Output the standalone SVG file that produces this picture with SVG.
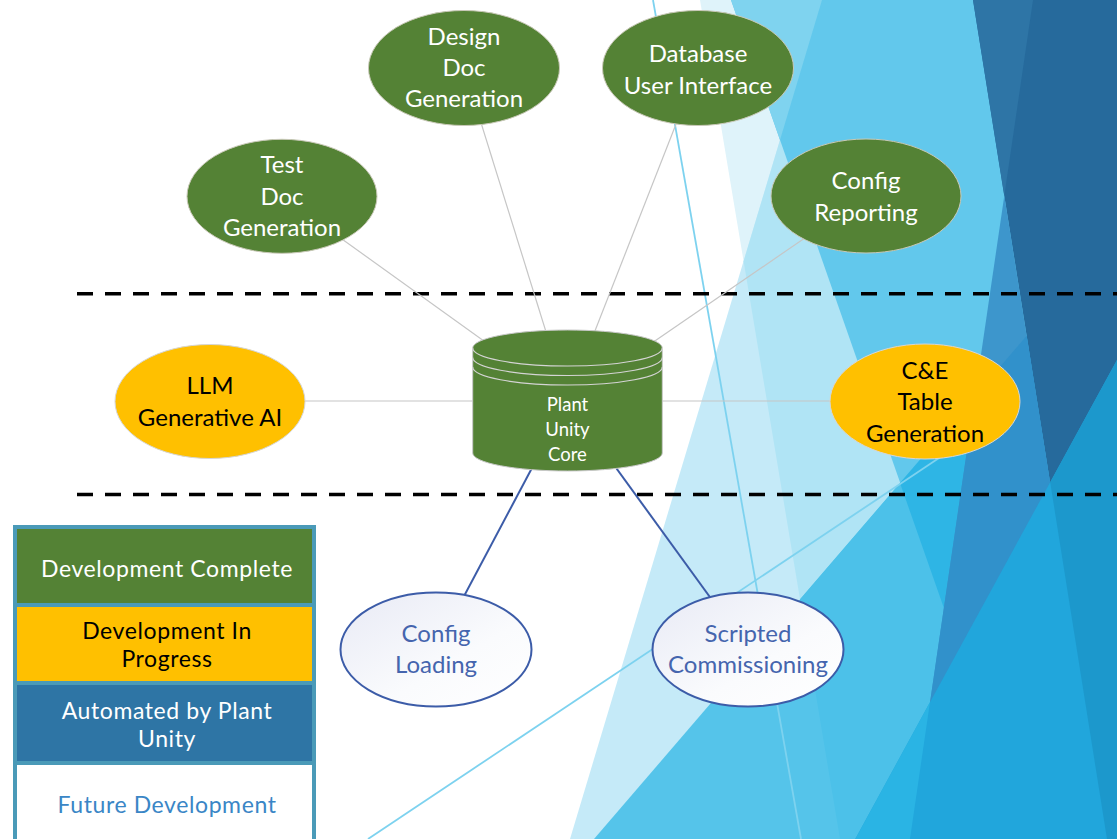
<svg xmlns="http://www.w3.org/2000/svg" width="1117" height="839" viewBox="0 0 1117 839">
<defs>
<style>
text{font-family:Lato,"Liberation Sans",sans-serif;text-anchor:middle}
.n{font-size:24px}
.w{fill:#ffffff}
.k{fill:#000000}
.b{fill:#4565ae}
.lg{font-size:23px;letter-spacing:0.6px}
.g{fill:#548235;stroke:#c9c9b8;stroke-width:1}
.y{fill:#ffc000;stroke:#d6d6d6;stroke-width:1}
.f{fill:url(#wg);stroke:#3c5ca8;stroke-width:2}
.gl{stroke:#c6c6c6;stroke-width:1.2;fill:none}
.bl{stroke:#3c5ca8;stroke-width:2;fill:none}
.dash{stroke:#000;stroke-width:3.5;stroke-dasharray:16 12;fill:none}
.tl{stroke:#7dd2ef;stroke-width:1.8;fill:none}
</style>
<linearGradient id="wg" x1="0" y1="0" x2="1" y2="1">
<stop offset="0" stop-color="#e8eaf5"/>
<stop offset="0.6" stop-color="#fafbfd"/>
<stop offset="1" stop-color="#ffffff"/>
</linearGradient>
</defs>
<rect width="1117" height="839" fill="#ffffff"/>
<g id="background">
<polygon points="700,0 1117,0 1117,839 840,839" fill="#dff3fa"/>
<polygon points="822,0 1117,0 1117,839 570,839" fill="#c5eaf8"/>
<polygon points="822,0 1117,0 1117,839 840,839 743.6,261.2" fill="#b0e4f5"/>
<polygon points="731,0 1117,0 1117,839 1025,839" fill="#62c8ec"/>
<polygon points="731,0 822,0 780,140" fill="#7fd3ef"/>
<polygon points="594,839 1117,231 1117,839" fill="#55c4ea"/>
<polygon points="800,599.2 1117,231 1117,839 840,839" fill="#4cc1e9"/>
<polygon points="900,483 1117,231 1117,839 1025,839" fill="#2eb5e5"/>
<polygon points="973,0 1117,0 1117,839 1107,839" fill="#266a9c"/>
<polygon points="973,0 1033,0 1004.3,195.7" fill="#2e75a6"/>
<polygon points="1004.3,195.7 1107,839 910,839" fill="#3d96cc"/>
<polygon points="975,395.9 1026.7,335.7 1107,839 910,839" fill="#3191cb"/>
<polygon points="1117,360 1117,839 855.3,839" fill="#21a6dc"/>
<polygon points="1117,360 1050.2,482.3 1107,839 1117,839" fill="#1c98cc"/>
<polygon points="930,702 910,839 855.3,839" fill="#2ab4e4"/>
<line class="tl" x1="653" y1="0" x2="801" y2="839"/>
<line class="tl" x1="368" y1="839" x2="960" y2="444"/>
</g>
<g id="separators">
<line class="dash" x1="77" y1="293.7" x2="1117" y2="293.7"/>
<line class="dash" x1="77" y1="494.5" x2="1117" y2="494.5"/>
</g>
<g id="connectors">
<line class="gl" x1="567.5" y1="401" x2="282" y2="196"/>
<line class="gl" x1="567.5" y1="401" x2="464" y2="68"/>
<line class="gl" x1="567.5" y1="401" x2="698" y2="68"/>
<line class="gl" x1="567.5" y1="401" x2="866" y2="196"/>
<line class="gl" x1="567.5" y1="401" x2="210" y2="401"/>
<line class="gl" x1="567.5" y1="401" x2="925" y2="401"/>
<line class="bl" x1="567.5" y1="401" x2="436" y2="649"/>
<line class="bl" x1="567.5" y1="401" x2="748" y2="649.5"/>
</g>
<g id="design-doc">
<ellipse class="g" cx="464" cy="68" rx="95.5" ry="57.5"/>
<text class="n w" x="464" y="44.5">Design</text>
<text class="n w" x="464" y="76">Doc</text>
<text class="n w" x="464" y="107.3">Generation</text>
</g>
<g id="database-ui">
<ellipse class="g" cx="698" cy="68" rx="95.5" ry="57.5"/>
<text class="n w" x="698" y="62.3">Database</text>
<text class="n w" x="698" y="93.6">User Interface</text>
</g>
<g id="test-doc">
<ellipse class="g" cx="282" cy="196.3" rx="95" ry="57"/>
<text class="n w" x="282" y="173.3">Test</text>
<text class="n w" x="282" y="204.5">Doc</text>
<text class="n w" x="282" y="235.5">Generation</text>
</g>
<g id="config-reporting">
<ellipse class="g" cx="866" cy="196" rx="95" ry="57"/>
<text class="n w" x="866" y="189.3">Config</text>
<text class="n w" x="866" y="220.7">Reporting</text>
</g>
<g id="llm">
<ellipse class="y" cx="210" cy="401.5" rx="95" ry="57"/>
<text class="n k" x="210" y="394.3">LLM</text>
<text class="n k" x="210" y="425.7">Generative AI</text>
</g>
<g id="ce-table">
<ellipse class="y" cx="925" cy="401.5" rx="95" ry="57.5"/>
<text class="n k" x="925" y="378.5">C&amp;E</text>
<text class="n k" x="925" y="410">Table</text>
<text class="n k" x="925" y="441.7">Generation</text>
</g>
<g id="plant-unity-core">
<path d="M472.7,348 A94.8,18 0 0,1 662.3,348 L662.3,453 A94.8,18 0 0,1 472.7,453 Z" fill="#548235" stroke="#c9c9c9" stroke-width="1"/>
<path d="M472.7,348 A94.8,18 0 0,0 662.3,348 M472.7,357.5 A94.8,18 0 0,0 662.3,357.5 M472.7,367 A94.8,18 0 0,0 662.3,367" fill="none" stroke="#d4d4d4" stroke-width="1.2"/>
<text class="w" style="font-size:18.5px" x="567.5" y="410.7">Plant</text>
<text class="w" style="font-size:18.5px" x="567.5" y="436">Unity</text>
<text class="w" style="font-size:18.5px" x="567.5" y="460.7">Core</text>
</g>
<g id="config-loading">
<ellipse class="f" cx="436" cy="649.5" rx="95.5" ry="57"/>
<text class="n b" x="436" y="641.8">Config</text>
<text class="n b" x="436" y="673.3">Loading</text>
</g>
<g id="scripted-commissioning">
<ellipse class="f" cx="748" cy="649.5" rx="95.5" ry="57"/>
<text class="n b" x="748" y="641.5">Scripted</text>
<text class="n b" x="748" y="673.3">Commissioning</text>
</g>
<g id="legend">
<rect x="13" y="525" width="303" height="330" fill="#4a9ab8"/>
<rect x="17" y="529" width="295" height="74" fill="#548235"/>
<rect x="17" y="607" width="295" height="74" fill="#ffc000"/>
<rect x="17" y="685" width="295" height="76" fill="#2e75a5"/>
<rect x="17" y="765" width="295" height="90" fill="#ffffff"/>
<text class="lg w" x="167" y="576.7">Development Complete</text>
<text class="lg k" x="167" y="639.3">Development In</text>
<text class="lg k" x="167" y="666.7">Progress</text>
<text class="lg w" x="167" y="719">Automated by Plant</text>
<text class="lg w" x="167" y="746.7">Unity</text>
<text class="lg" style="fill:#3a86c6" x="167" y="813.3">Future Development</text>
</g>
</svg>
